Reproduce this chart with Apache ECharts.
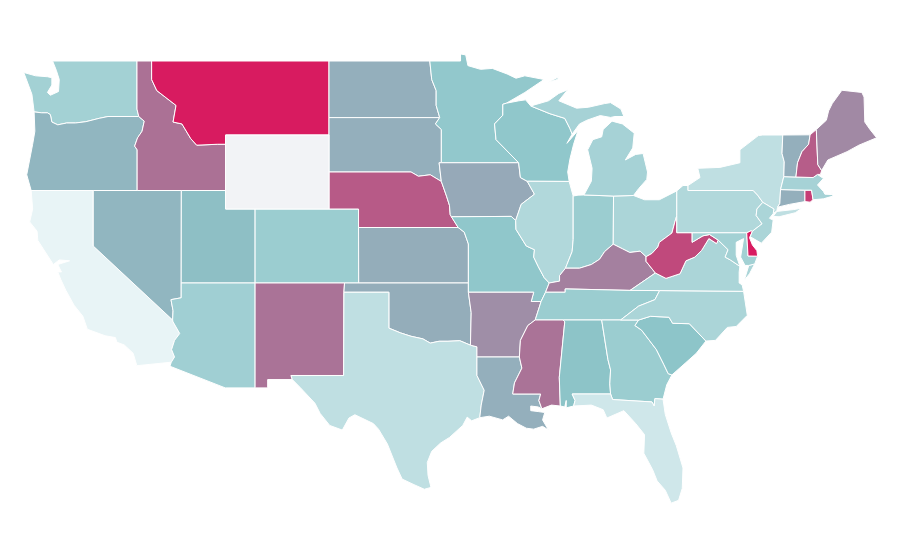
<!DOCTYPE html>
<html>
<head>
<meta charset="utf-8">
<title>US states</title>
<script src="https://cdn.jsdelivr.net/npm/echarts@6/dist/echarts.min.js"></script>
<style>
  html, body { margin: 0; padding: 0; background: #fff; }
  #main { width: 900px; height: 560px; }
</style>
</head>
<body>
<div id="main"></div>
<script>
// values, Wyoming has none
const stateNames = ['California','Florida','Texas','New York','Illinois','Pennsylvania','North Carolina','Virginia','Ohio','New Jersey',
  'Michigan','Massachusetts','Washington','Maryland','Arizona','Colorado','Georgia','Tennessee','Indiana','Minnesota',
  'Wisconsin','Missouri','South Carolina','Alabama','Utah','Oregon','Nevada','Connecticut','Vermont','Louisiana',
  'North Dakota','South Dakota','Oklahoma','Kansas','Iowa','Arkansas','Maine','Kentucky','Mississippi','New Mexico',
  'Idaho','New Hampshire','Nebraska','West Virginia','Rhode Island','Montana','Delaware'];
const stateValues = [0,9,15,15,20,20,22,22,22,22,
  24,24,25,25,26,28,28,28,28,31,
  32,32,33,34,36,40,40,43,43,43,
  43,43,44,44,46,58,60,64,69,69,
  70,77,78,84,88,100,100];

// outlines as lon,lat
const stateOutlines = {
  Washington: ['-122.75,49 -117.04,49 -117.04,46.4 -116.92,46 -119,46 -119.6,45.9 -120.5,45.72 -121.2,45.65 -121.8,45.65 -122.4,45.55 -122.8,45.7 -122.9,46.1 -123.1,46.2 -123.5,46.2 -124,46.25 -124.15,47.2 -124.7,48.38 -123.9,48.2 -123.1,48.15 -122.8,48.1 -122.8,47.7 -123.1,47.3 -122.9,47.15 -122.35,47.35 -122.3,48 -122.5,48.5'],
  Oregon: ['-124.2,42 -120,42 -117.03,42 -117.03,44.2 -117.2,44.4 -117,44.85 -116.7,45.2 -116.55,45.75 -116.92,46 -119,46 -119.6,45.9 -120.5,45.72 -121.2,45.65 -121.8,45.65 -122.4,45.55 -122.8,45.7 -122.9,46.1 -123.1,46.2 -123.5,46.2 -124,46.25 -123.95,45.2 -124.1,44.5 -124.5,42.85'],
  California: ['-124.2,42 -120,42 -120,39 -114.63,35 -114.6,34.9 -114.15,34.27 -114.5,33.9 -114.7,33.4 -114.5,33 -114.72,32.72 -117.05,32.53 -117.3,33.2 -117.9,33.65 -118.4,33.8 -118.5,34.05 -119.2,34.15 -120.4,34.5 -120.7,35.2 -121.3,35.8 -121.85,36.6 -122.2,37.2 -122.4,37.6 -122.15,37.6 -122.4,38 -121.6,38.2 -122.3,38.25 -122.7,38 -123.75,39.3 -123.8,39.8 -124.3,40.3 -124.1,41'],
  Nevada: ['-120,42 -114.04,42 -114.05,36.2 -114.74,36.1 -114.6,35.5 -114.63,35 -120,39'],
  Idaho: ['-117.04,49 -116.05,49 -116.05,48 -115.7,47.4 -114.4,46.6 -114.6,45.7 -114,45.6 -113.4,44.8 -113,44.45 -111.6,44.5 -111.05,44.5 -111.05,42 -114.04,42 -117.03,42 -117.03,44.2 -117.2,44.4 -117,44.85 -116.7,45.2 -116.55,45.75 -116.92,46 -117.04,46.4'],
  Montana: ['-116.05,49 -104.05,49 -104.05,45 -111.05,45 -111.05,44.5 -111.6,44.5 -113,44.45 -113.4,44.8 -114,45.6 -114.6,45.7 -114.4,46.6 -115.7,47.4 -116.05,48'],
  Utah: ['-114.04,42 -111.05,42 -111.05,41 -109.05,41 -109.05,37 -114.05,37'],
  Arizona: ['-109.05,37 -109.05,31.33 -111.07,31.33 -114.81,32.5 -114.72,32.72 -114.5,33 -114.7,33.4 -114.5,33.9 -114.15,34.27 -114.6,34.9 -114.63,35 -114.6,35.5 -114.74,36.1 -114.05,36.2 -114.05,37'],
  Colorado: ['-109.05,41 -102.05,41 -102.05,37 -109.05,37'],
  'New Mexico': ['-109.05,37 -103,37 -103.04,36.5 -103.06,32 -106.62,32 -106.53,31.78 -108.2,31.78 -108.2,31.33 -109.05,31.33'],
  'North Dakota': ['-104.05,49 -97.23,49 -97.1,48 -96.8,47.4 -96.8,46.6 -96.56,45.94 -104.05,45.94'],
  'South Dakota': ['-104.05,45.94 -96.56,45.94 -96.85,45.6 -96.45,45.3 -96.45,43.5 -96.6,43.5 -96.45,42.49 -97.2,42.85 -98,42.77 -98.5,43 -104.05,43'],
  Nebraska: ['-104.05,43 -98.5,43 -98,42.77 -97.2,42.85 -96.45,42.49 -96.1,41.7 -95.9,41.2 -95.85,40.7 -95.31,40 -102.05,40 -102.05,41 -104.05,41'],
  Kansas: ['-102.05,40 -95.31,40 -94.9,39.75 -94.62,39.11 -94.62,37 -102.04,37'],
  Oklahoma: ['-103,37 -94.62,37 -94.62,36.5 -94.43,35.4 -94.48,33.64 -95.2,33.88 -96,33.85 -96.6,33.85 -97.2,33.75 -97.7,33.98 -98.5,34.12 -99.2,34.3 -100,34.56 -100,36.5 -103.04,36.5'],
  Texas: ['-103.04,36.5 -100,36.5 -100,34.56 -99.2,34.3 -98.5,34.12 -97.7,33.98 -97.2,33.75 -96.6,33.85 -96,33.85 -95.2,33.88 -94.48,33.64 -94.04,33.55 -94.04,33 -94.04,32 -93.55,31.2 -93.75,30.4 -93.85,29.72 -94.4,29.55 -94.7,29.75 -95,29.3 -95.9,28.65 -96.5,28.35 -97.1,27.9 -97.4,27.3 -97.35,26.6 -97.15,25.95 -97.6,25.85 -98.3,26.1 -99.1,26.4 -99.45,27 -100.1,28.3 -100.7,29.1 -101.05,29.4 -102.3,29.88 -102.7,29.7 -103.15,29.05 -104,29.3 -104.65,29.95 -105,30.5 -106,31.35 -106.53,31.78 -106.62,32 -103.06,32'],
  Minnesota: ['-97.23,49 -95.15,49 -95.15,49.38 -94.8,49.33 -94.65,48.75 -93.8,48.55 -93,48.6 -92,48.3 -91.4,48.07 -90.8,48.2 -89.5,48 -90.8,47.3 -92.05,46.72 -92.29,46.66 -92.29,46.07 -92.85,45.6 -92.75,44.75 -91.22,43.5 -96.45,43.5 -96.45,45.3 -96.85,45.6 -96.56,45.94 -96.8,46.6 -96.8,47.4 -97.1,48'],
  Iowa: ['-96.45,43.5 -91.22,43.5 -91.1,42.7 -90.64,42.5 -90.15,41.8 -91.05,41.25 -91.42,40.38 -91.72,40.6 -95.77,40.58 -95.85,40.7 -95.9,41.2 -96.1,41.7 -96.45,42.49 -96.6,43.5'],
  Missouri: ['-95.77,40.58 -91.72,40.6 -91.42,40.38 -91.4,39.9 -90.7,39 -90.15,38.8 -90.2,38.4 -89.9,37.9 -89.5,37.3 -89.15,37 -89.4,36.5 -89.7,36 -90.37,36 -90.2,36.5 -94.62,36.5 -94.62,37 -94.62,39.11 -94.9,39.75 -95.31,40'],
  Arkansas: ['-94.62,36.5 -90.2,36.5 -90.37,36 -89.7,36 -90.1,35 -90.6,34.7 -91.1,33.9 -91.17,33 -94.04,33 -94.04,33.55 -94.48,33.64 -94.43,35.4'],
  Louisiana: ['-94.04,33 -91.17,33 -91,32.4 -91.5,31.6 -91.62,31 -89.73,31 -89.85,30.65 -89.65,30.2 -89.9,30.3 -90.4,30.35 -90.4,30.1 -89.9,30.05 -89.45,30 -89.6,29.6 -89.2,29.05 -89.6,29.25 -90.2,29.1 -90.7,29.15 -91.3,29.4 -91.9,29.8 -92.3,29.6 -93.2,29.8 -93.85,29.72 -93.75,30.4 -93.55,31.2 -94.04,32'],
  Wisconsin: ['-92.05,46.72 -91.2,46.85 -90.75,46.9 -90.4,46.57 -89.1,46.15 -88.1,45.9 -87.75,45.35 -87.6,45.05 -87.95,44.55 -87.2,45.25 -87.5,44.5 -87.75,43.7 -87.9,43 -87.8,42.49 -90.64,42.5 -91.1,42.7 -91.22,43.5 -92.75,44.75 -92.85,45.6 -92.29,46.07 -92.29,46.66'],
  Illinois: ['-90.64,42.5 -87.8,42.49 -87.53,41.7 -87.53,39.35 -87.6,38.7 -87.95,38 -88.05,37.8 -88.45,37.4 -88.45,37.1 -89.15,37 -89.5,37.3 -89.9,37.9 -90.2,38.4 -90.15,38.8 -90.7,39 -91.4,39.9 -91.42,40.38 -91.05,41.25 -90.15,41.8'],
  Indiana: ['-87.53,41.7 -87.2,41.75 -86.8,41.76 -84.8,41.7 -84.82,39.1 -85.4,38.7 -85.75,38.28 -86.3,38 -87.1,37.8 -88.05,37.8 -87.95,38 -87.6,38.7 -87.53,39.35'],
  Ohio: ['-84.82,39.1 -84.8,41.7 -83.45,41.73 -82.7,41.5 -81.7,41.5 -80.52,41.98 -80.52,40.64 -80.65,40.3 -80.85,39.7 -81.7,39.2 -81.8,38.95 -82.2,38.6 -82.6,38.42 -83,38.72 -83.7,38.65 -84.2,38.85'],
  Michigan: ['-86.8,41.76 -84.8,41.7 -83.45,41.73 -83.1,42.1 -82.55,42.6 -82.5,43 -82.8,44 -83.3,43.95 -84,43.65 -83.5,44.3 -83.4,45.1 -84.2,45.6 -84.9,45.75 -85.5,45.3 -85.6,44.9 -86.2,44.75 -86.55,44.2 -86.25,43.2 -86.3,42.5',
    '-90.4,46.57 -89.1,46.15 -88.1,45.9 -87.75,45.35 -87.6,45.05 -87.1,45.6 -86.6,45.8 -85.7,46.05 -85,45.95 -84.7,46 -84.1,46 -84.3,46.4 -85,46.75 -85.4,46.7 -86.5,46.5 -87.3,46.45 -88.5,46.85 -87.9,47.45 -88.5,47.25 -89.2,46.85',
    '-89.2,47.85 -88.5,48.15 -88.6,48'],
  Kentucky: ['-89.4,36.5 -88.07,36.5 -88.07,36.68 -83.68,36.6 -82.95,37 -81.97,37.54 -82.6,38.17 -82.6,38.42 -83,38.72 -83.7,38.65 -84.2,38.85 -84.82,39.1 -85.4,38.7 -85.75,38.28 -86.3,38 -87.1,37.8 -88.05,37.8 -88.45,37.4 -88.45,37.1 -89.15,37'],
  Tennessee: ['-90.1,35 -88.2,35 -85.6,35 -84.32,35 -83.1,35.75 -82,36.1 -81.68,36.59 -83.68,36.6 -88.07,36.68 -88.07,36.5 -89.4,36.5 -89.7,36'],
  Mississippi: ['-90.1,35 -88.2,35 -88.1,34.9 -88.47,31.9 -88.4,30.35 -89,30.4 -89.65,30.2 -89.85,30.65 -89.73,31 -91.62,31 -91.5,31.6 -91,32.4 -91.17,33 -91.1,33.9 -90.6,34.7'],
  Alabama: ['-88.2,35 -85.6,35 -85.18,32.87 -85,32.3 -85.05,31.55 -85,31 -87.6,31 -87.4,30.65 -87.5,30.35 -88,30.25 -88,30.65 -88.1,30.3 -88.4,30.35 -88.47,31.9 -88.1,34.9'],
  Georgia: ['-85.6,35 -83.1,35 -83.35,34.7 -82.9,34.45 -81.9,33.4 -81.4,32.6 -81.1,32.1 -80.85,32.03 -81.2,31.5 -81.45,30.72 -82,30.75 -82.05,30.35 -82.2,30.57 -84.86,30.7 -85,31 -85.05,31.55 -85,32.3 -85.18,32.87'],
  Florida: ['-87.6,31 -85,31 -84.86,30.7 -82.2,30.57 -82.05,30.35 -82,30.75 -81.45,30.72 -81.3,29.9 -80.9,28.9 -80.55,28.2 -80.1,27 -80.15,25.9 -80.4,25.25 -80.9,25.1 -81.3,25.8 -81.85,26.3 -82.15,26.9 -82.75,27.8 -82.7,28.8 -83.3,29.4 -84.1,30.1 -85.25,29.7 -85.5,30.15 -86.3,30.4 -87.5,30.35 -87.4,30.65'],
  'South Carolina': ['-83.1,35 -82.3,35.2 -81.05,35.15 -80.8,34.82 -79.67,34.8 -78.55,33.86 -79.2,33.2 -79.9,32.7 -80.85,32.03 -81.1,32.1 -81.4,32.6 -81.9,33.4 -82.9,34.45 -83.35,34.7'],
  'North Carolina': ['-84.32,35 -83.1,35 -82.3,35.2 -81.05,35.15 -80.8,34.82 -79.67,34.8 -78.55,33.86 -77.9,33.9 -77.1,34.6 -76.5,34.65 -75.75,35.25 -76,36.55 -81.68,36.59 -82,36.1 -83.1,35.75'],
  Virginia: ['-83.68,36.6 -81.68,36.59 -76,36.55 -76.1,36.9 -76.3,37 -76.3,37.6 -76.25,37.9 -76.9,38.25 -77.25,38.4 -77.05,38.8 -77.72,39.32 -77.83,39.13 -78.35,39.4 -78.85,38.75 -79.3,38.4 -79.9,38.2 -80.3,37.5 -81.25,37.25 -81.97,37.54 -82.95,37',
    '-75.25,38.03 -75.65,37.95 -75.95,37.15 -75.6,37.5'],
  'West Virginia': ['-82.6,38.42 -82.6,38.17 -81.97,37.54 -81.25,37.25 -80.3,37.5 -79.9,38.2 -79.3,38.4 -78.85,38.75 -78.35,39.4 -77.83,39.13 -77.72,39.32 -78.3,39.62 -78.75,39.55 -79.48,39.2 -79.48,39.72 -80.52,39.72 -80.52,40.64 -80.65,40.3 -80.85,39.7 -81.7,39.2 -81.8,38.95 -82.2,38.6'],
  Maryland: ['-79.48,39.72 -75.79,39.72 -75.7,38.46 -75.05,38.45 -75.25,38.03 -75.65,37.95 -75.9,37.95 -76.2,38.4 -76,39.4 -76.5,39.2 -76.5,38.5 -76.25,37.9 -76.9,38.25 -77.25,38.4 -77.05,38.8 -77.72,39.32 -78.3,39.62 -78.75,39.55 -79.48,39.2'],
  Delaware: ['-75.79,39.72 -75.5,39.83 -75.4,39.8 -75.6,39.45 -75.4,39.05 -75.1,38.75 -75.05,38.45 -75.7,38.46'],
  Pennsylvania: ['-80.52,41.98 -80.1,42.27 -79.76,42.27 -79.76,42 -75.35,42 -75.05,41.75 -74.7,41.36 -75.1,41 -75.15,40.65 -74.75,40.2 -75.4,39.8 -75.5,39.83 -75.79,39.72 -80.52,39.72 -80.52,40.64'],
  'New York': ['-79.76,42.27 -78.95,42.7 -79.1,43.2 -77.6,43.25 -76.25,43.5 -76.25,44.2 -75,44.97 -74.7,45 -73.35,45 -73.4,44 -73.25,43.55 -73.28,42.75 -73.5,42.05 -73.55,41.3 -73.7,41.1 -73.75,40.9 -74,40.75 -73.95,41 -74.7,41.36 -75.05,41.75 -75.35,42 -79.76,42',
    '-74,40.6 -73.75,40.87 -72.6,40.97 -72.05,41.05 -72.5,40.8 -73.6,40.58'],
  'New Jersey': ['-74.7,41.36 -73.95,41 -74,40.75 -74.25,40.5 -74,40.4 -74.1,39.75 -74.8,39.15 -74.9,39.2 -75.55,39.5 -75.4,39.8 -74.75,40.2 -75.15,40.65 -75.1,41'],
  Connecticut: ['-73.5,42.05 -71.85,42.02 -71.85,41.4 -72.9,41.25 -73.7,41.1 -73.55,41.3'],
  'Rhode Island': ['-71.85,42.02 -71.4,42.02 -71.3,41.5 -71.5,41.37 -71.85,41.4'],
  Massachusetts: ['-73.5,42.05 -73.28,42.75 -72.46,42.73 -71.3,42.7 -71,42.87 -70.6,42.65 -71,42.3 -70.6,41.95 -70.5,41.8 -70,41.78 -70.1,42.05 -69.95,41.7 -70.6,41.55 -71.3,41.5 -71.4,42.02 -71.85,42.02'],
  Vermont: ['-73.35,45 -71.5,45.01 -71.6,44.5 -72.05,44.1 -72.35,43.5 -72.46,42.73 -73.28,42.75 -73.25,43.55 -73.4,44'],
  'New Hampshire': ['-71.5,45.01 -71.08,45.3 -70.98,43.4 -70.72,43.08 -70.8,42.87 -71,42.87 -71.3,42.7 -72.46,42.73 -72.35,43.5 -72.05,44.1 -71.6,44.5'],
  Maine: ['-71.08,45.3 -70.4,45.8 -70.25,46.3 -70,46.7 -69.35,47.42 -68,47.3 -67.85,47.05 -67.8,45.7 -67.45,45.3 -67,44.85 -68.2,44.45 -69,44.1 -70.3,43.65 -70.72,43.08 -70.98,43.4'],
  Wyoming: ['-111.05,45 -104.05,45 -104.05,41 -111.05,41']
};

function parseRing(text) {
  const pts = text.split(' ').map(function (p) {
    return p.split(',').map(Number);
  });
  pts.push(pts[0]);
  return [pts];
}

const usJson = {
  type: 'FeatureCollection',
  features: Object.keys(stateOutlines).map(function (name) {
    return {
      type: 'Feature',
      properties: { name: name },
      geometry: { type: 'MultiPolygon', coordinates: stateOutlines[name].map(parseRing) }
    };
  })
};

const chart = echarts.init(document.getElementById('main'), null, { renderer: 'canvas' });
echarts.registerMap('usa', usJson);

chart.setOption({
  animation: false,
  backgroundColor: '#fff',
  visualMap: {
    show: false,
    min: 0,
    max: 100,
    seriesIndex: 0,
    inRange: { color: ['#e8f4f6', '#8cc5c9', '#a67a9b', '#d81b60'] }
  },
  series: [{
    name: 'states',
    type: 'map',
    map: 'usa',
    silent: true,
    roam: false,
    aspectScale: 0.799,
    boundingCoords: [[-124.8, 49.4], [-66.9, 25]],
    layoutCenter: [450.2, 279.3],
    layoutSize: 855.8,
    label: { show: false },
    itemStyle: { areaColor: '#f2f3f6', borderColor: '#fff', borderWidth: 1 },
    data: stateNames.map(function (name, i) {
      return { name: name, value: stateValues[i] };
    })
  }]
});
</script>
</body>
</html>
